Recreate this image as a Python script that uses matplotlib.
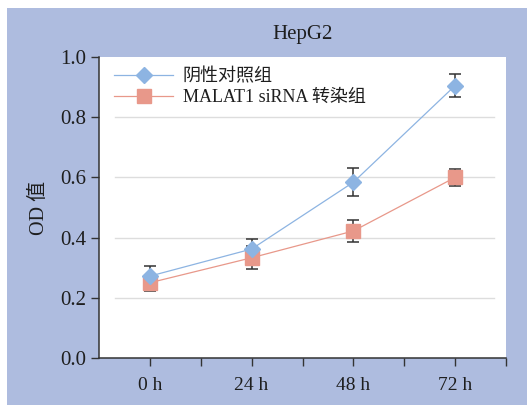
import matplotlib
matplotlib.use("Agg")
import matplotlib.pyplot as plt
from matplotlib.patches import Rectangle
import numpy as np

# Data
timepoints = ["0 h", "24 h", "48 h", "72 h"]
control_mean = [0.272, 0.362, 0.584, 0.905]
control_err = [0.034, 0.034, 0.047, 0.037]
sirna_mean = [0.250, 0.333, 0.422, 0.600]
sirna_err = [0.027, 0.038, 0.037, 0.029]
series_labels = ["阴性对照组", "MALAT1 siRNA 转染组"]
yticks = [0.0, 0.2, 0.4, 0.6, 0.8, 1.0]

FONT = ["Liberation Serif", "Noto Sans CJK SC"]
plt.rcParams["font.family"] = FONT

BG = "#AEBCDF"
BLUE = "#8DB4E2"
RED = "#E8988A"
DARK = "#333333"
TXT = "#1E1E1E"

fig = plt.figure(figsize=(5.27, 4.07), dpi=100)
fig.patch.set_facecolor("white")
fig.patches.append(Rectangle((7 / 527, 1 - 405 / 407), 520 / 527, 397 / 407,
                             transform=fig.transFigure, facecolor=BG,
                             edgecolor="none", zorder=-10))

ax = fig.add_axes([99 / 527, 1 - 358 / 407, 407 / 527, 301 / 407])
ax.set_zorder(1)
ax.set_facecolor("white")

x = np.arange(len(timepoints))

for yv in yticks[1:-1]:
    ax.axhline(yv, xmin=0.04, xmax=0.97, color="#DDDDDD", lw=1.0, zorder=1)

# error bars sit beneath the markers
ax.errorbar(x, sirna_mean, yerr=sirna_err, fmt="none", ecolor=DARK,
            elinewidth=1.1, capsize=4, capthick=1.1, zorder=1.5)
ax.errorbar(x, control_mean, yerr=control_err, fmt="none", ecolor=DARK,
            elinewidth=1.1, capsize=4, capthick=1.1, zorder=1.6)
ax.plot(x, sirna_mean, color=RED, lw=0.9, marker="s", ms=10,
        mfc=RED, mec=RED, zorder=2, label=series_labels[1])
ax.plot(x, control_mean, color=BLUE, lw=0.9, marker="D", ms=8.5,
        mfc=BLUE, mec=BLUE, zorder=3, label=series_labels[0])

ax.set_xlim(-0.5, 3.5)
ax.set_ylim(0, 1.0)
ax.set_xticks(x)
ax.set_xticklabels(timepoints)
ax.set_xticks(x + 0.5, minor=True)
ax.set_yticks(yticks)
ax.set_yticklabels([f"{v:.1f}" for v in yticks])

for s in ["top", "right"]:
    ax.spines[s].set_visible(False)
for s in ["left", "bottom"]:
    ax.spines[s].set_color(DARK)
    ax.spines[s].set_linewidth(1.1)

ax.tick_params(axis="both", which="both", direction="out", length=6,
               width=1.0, color=DARK, labelcolor=TXT)
ax.tick_params(axis="x", which="both", pad=8, labelsize=14)
ax.tick_params(axis="y", pad=3, labelsize=15)

ax.set_ylabel("OD 值", fontsize=14.5, color=TXT, labelpad=8)
ax.set_title("HepG2", fontsize=15, color=TXT, pad=13)

handles, labels = ax.get_legend_handles_labels()
leg = ax.legend(handles[::-1], labels[::-1], loc="upper left", frameon=False,
                fontsize=13, handlelength=3.3, handletextpad=0.5,
                labelspacing=0.22, borderaxespad=0.2,
                bbox_to_anchor=(0.01, 1.0))
for t in leg.get_texts():
    t.set_color(TXT)

fig.savefig("out.png", dpi=100, facecolor=fig.get_facecolor())
